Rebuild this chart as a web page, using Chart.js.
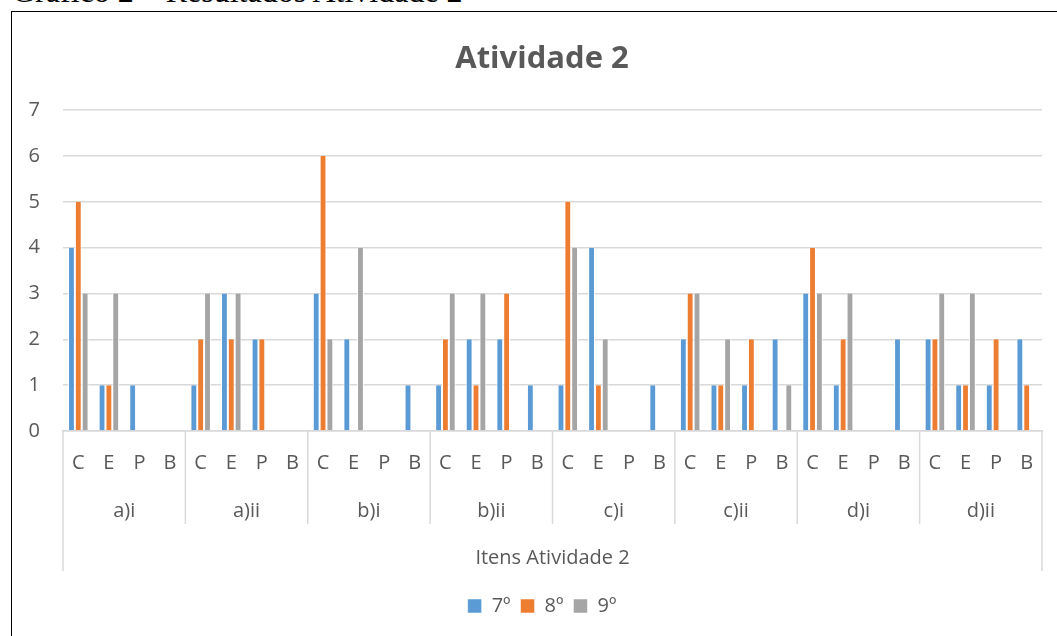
<!DOCTYPE html>
<html>
<head>
<meta charset="utf-8">
<script src="https://cdn.jsdelivr.net/npm/chart.js@4"></script>
<style>
    html, body { margin: 0; padding: 0; background: #fff; overflow: hidden; width: 1057px; height: 636px; }
    #caption {
        position: absolute; left: 12px; top: -29px;
        font-family: "Liberation Serif", "Times New Roman", serif;
        font-size: 32px; line-height: 40px; color: #000; white-space: nowrap;
    }
    #box {
        position: absolute; left: 11px; top: 11px; width: 1070px; height: 640px;
        border: 1.5px solid #000; box-sizing: border-box;
    }
    #wrap { position: absolute; left: 12px; top: 12px; width: 1060px; height: 624px; }
</style>
</head>
<body>
<div id="caption">Gráfico 2 – Resultados Atividade 2</div>
<div id="box"></div>
<div id="wrap"><canvas id="myChart" width="1060" height="624"></canvas></div>
<script>
// Values: each item has C, E, P, B answers for the three grades
const groups = ['a)i', 'a)ii', 'b)i', 'b)ii', 'c)i', 'c)ii', 'd)i', 'd)ii'];
const subLabels = ['C', 'E', 'P', 'B'];
const seriesNames = ['7º', '8º', '9º'];
const values7 = [4, 1, 1, 0,  1, 3, 2, 0,  3, 2, 0, 1,  1, 2, 2, 1,  1, 4, 0, 1,  2, 1, 1, 2,  3, 1, 0, 2,  2, 1, 1, 2];
const values8 = [5, 1, 0, 0,  2, 2, 2, 0,  6, 0, 0, 0,  2, 1, 3, 0,  5, 1, 0, 0,  3, 1, 2, 0,  4, 2, 0, 0,  2, 1, 2, 1];
const values9 = [3, 3, 0, 0,  3, 3, 0, 0,  2, 4, 0, 0,  3, 3, 0, 0,  4, 2, 0, 0,  3, 2, 0, 1,  3, 3, 0, 0,  3, 3, 0, 0];
const yTicks = [0, 1, 2, 3, 4, 5, 6, 7];

const colors = ['#5B9BD5', '#ED7D31', '#A5A5A5'];
const textColor = '#595959';
const lineColor = '#D9D9D9';
const fontFamily = '"Open Sans", "Noto Sans", sans-serif';

// one label per bar slot: C E P B repeated for every item
const labels = [];
groups.forEach(() => subLabels.forEach(s => labels.push(s)));

// Draws the second level of the category axis (item names) and the separator lines
const groupAxisPlugin = {
    id: 'groupAxis',
    afterDraw(chart) {
        const ctx = chart.ctx;
        const x = chart.scales.x;
        const bottom = chart.chartArea.bottom;
        const half = (x.getPixelForValue(1) - x.getPixelForValue(0)) / 2;
        const n = subLabels.length;

        ctx.save();
        ctx.strokeStyle = lineColor;
        ctx.lineWidth = 1.5;
        for (let g = 0; g <= groups.length; g++) {
            const px = g < groups.length ? x.getPixelForValue(g * n) - half : x.getPixelForValue(labels.length - 1) + half;
            const outer = g === 0 || g === groups.length;
            ctx.beginPath();
            ctx.moveTo(px, bottom);
            ctx.lineTo(px, bottom + (outer ? 140 : 93));
            ctx.stroke();
        }

        ctx.fillStyle = textColor;
        ctx.font = '20px ' + fontFamily;
        ctx.textAlign = 'center';
        ctx.textBaseline = 'middle';
        groups.forEach((name, g) => {
            const cx = (x.getPixelForValue(g * n) + x.getPixelForValue(g * n + n - 1)) / 2;
            ctx.fillText(name, cx, bottom + 80);
        });
        ctx.restore();
    }
};

new Chart(document.getElementById('myChart').getContext('2d'), {
    type: 'bar',
    data: {
        labels: labels,
        datasets: [values7, values8, values9].map((vals, i) => ({
            label: seriesNames[i],
            data: vals,
            yAxisID: 'y',
            backgroundColor: colors[i],
            borderColor: '#ffffff',
            borderWidth: { left: 1, right: 1, top: 0, bottom: 0 },
            borderSkipped: false,
            categoryPercentage: 0.67,
            barPercentage: 1
        }))
    },
    options: {
        responsive: false,
        animation: false,
        layout: { padding: { left: 0, right: 0, top: 0, bottom: 10 } },
        plugins: {
            title: {
                display: true,
                text: 'Atividade 2',
                color: textColor,
                font: { family: fontFamily, size: 31, weight: 'bold' },
                padding: { top: 29, bottom: 32 }
            },
            legend: {
                position: 'bottom',
                labels: {
                    color: textColor,
                    font: { family: fontFamily, size: 20 },
                    boxWidth: 14,
                    boxHeight: 14,
                    padding: 10
                }
            },
            tooltip: { enabled: false }
        },
        scales: {
            x: {
                grid: { display: false, drawTicks: false },
                border: { display: true, color: lineColor, width: 1.5 },
                ticks: {
                    color: textColor,
                    font: { family: fontFamily, size: 20 },
                    padding: 20,
                    maxRotation: 0,
                    autoSkip: false
                },
                title: {
                    display: true,
                    text: 'Itens Atividade 2',
                    color: textColor,
                    font: { family: fontFamily, size: 20 },
                    padding: { top: 51, bottom: 16 }
                }
            },
            y: {
                min: 0,
                max: 7,
                afterFit(scale) { scale.width = 51; },
                afterBuildTicks(scale) { scale.ticks = yTicks.map(v => ({ value: v })); },
                grid: { color: lineColor, lineWidth: 1.5, drawTicks: false },
                border: { display: false },
                ticks: {
                    color: textColor,
                    font: { family: fontFamily, size: 20 },
                    padding: 23
                }
            },
            // empty right-hand margin so the title and legend stay centred on the whole frame
            yRight: {
                position: 'right',
                min: 0,
                max: 7,
                afterFit(scale) { scale.width = 30; },
                grid: { display: false },
                border: { display: false },
                ticks: { display: false }
            }
        }
    },
    plugins: [groupAxisPlugin]
});
</script>
</body>
</html>
